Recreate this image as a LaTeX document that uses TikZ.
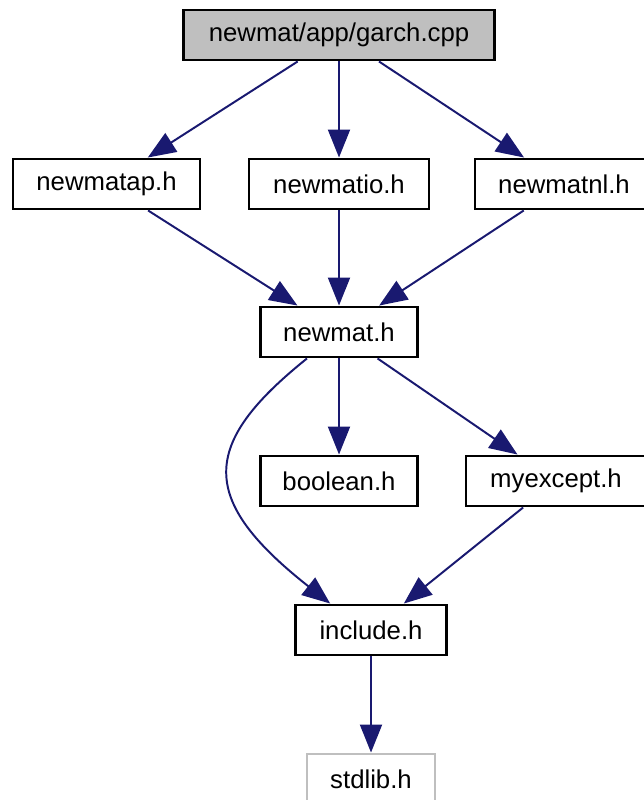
\documentclass[tikz,border=0pt]{standalone}
\usepackage{fontspec}
\setmainfont{Liberation Sans}
\usepackage{tikz}
\usepackage{xcolor}
\usetikzlibrary{arrows.meta}
\definecolor{edgeblue}{RGB}{25,25,112}
\definecolor{nodegray}{RGB}{191,191,191}

\begin{document}
\begin{tikzpicture}[x=0.025cm, y=-0.025cm,
    base/.style={draw=black, line width=1.5pt, minimum height=1.27cm,
                 inner sep=0pt, font=\fontsize{18.3}{22}\selectfont},
    file/.style={base, fill=white},
    cur/.style={base, fill=nodegray},
    sys/.style={base, draw=nodegray, fill=white},
    edge/.style={-{Triangle[length=0.7cm, width=0.55cm]}, line width=1.4pt, draw=edgeblue}]

    \useasboundingbox (0,0) rectangle (643,800);

    % Files
    \node[cur, minimum width=7.775cm]  (garch)    at (339,35)  {newmat/app/garch.cpp};
    \node[file, minimum width=4.675cm] (newmatap) at (106.5,184) {newmatap.h};
    \node[file, minimum width=4.5cm]   (newmatio) at (339,184) {newmatio.h};
    \node[file, minimum width=4.45cm]  (newmatnl) at (564,184) {newmatnl.h};
    \node[file, minimum width=3.925cm] (newmat)   at (339,332) {newmat.h};
    \node[file, minimum width=3.925cm] (boolean)  at (339,481) {boolean.h};
    \node[file, minimum width=4.5cm]   (myexcept) at (556,481) {myexcept.h};
    \node[file, minimum width=3.775cm] (include)  at (371,630) {include.h};
    \node[sys, minimum width=3.2cm]    (stdlib)   at (371,779) {stdlib.h};

    % Includes
    \draw[edge] (garch) -- (newmatap);
    \draw[edge] (garch) -- (newmatio);
    \draw[edge] (garch) -- (newmatnl);
    \draw[edge] (newmatap) -- (newmat);
    \draw[edge] (newmatio) -- (newmat);
    \draw[edge] (newmatnl) -- (newmat);
    \draw[edge] (newmat) -- (boolean);
    \draw[edge] (newmat) -- (myexcept);
    \draw[edge] ([xshift=-0.8cm]newmat.south) .. controls (199,445) and (199,500) .. ([xshift=-1.02cm]include.north);
    \draw[edge] (myexcept) -- (include);
    \draw[edge] (include) -- (stdlib);
\end{tikzpicture}
\end{document}
